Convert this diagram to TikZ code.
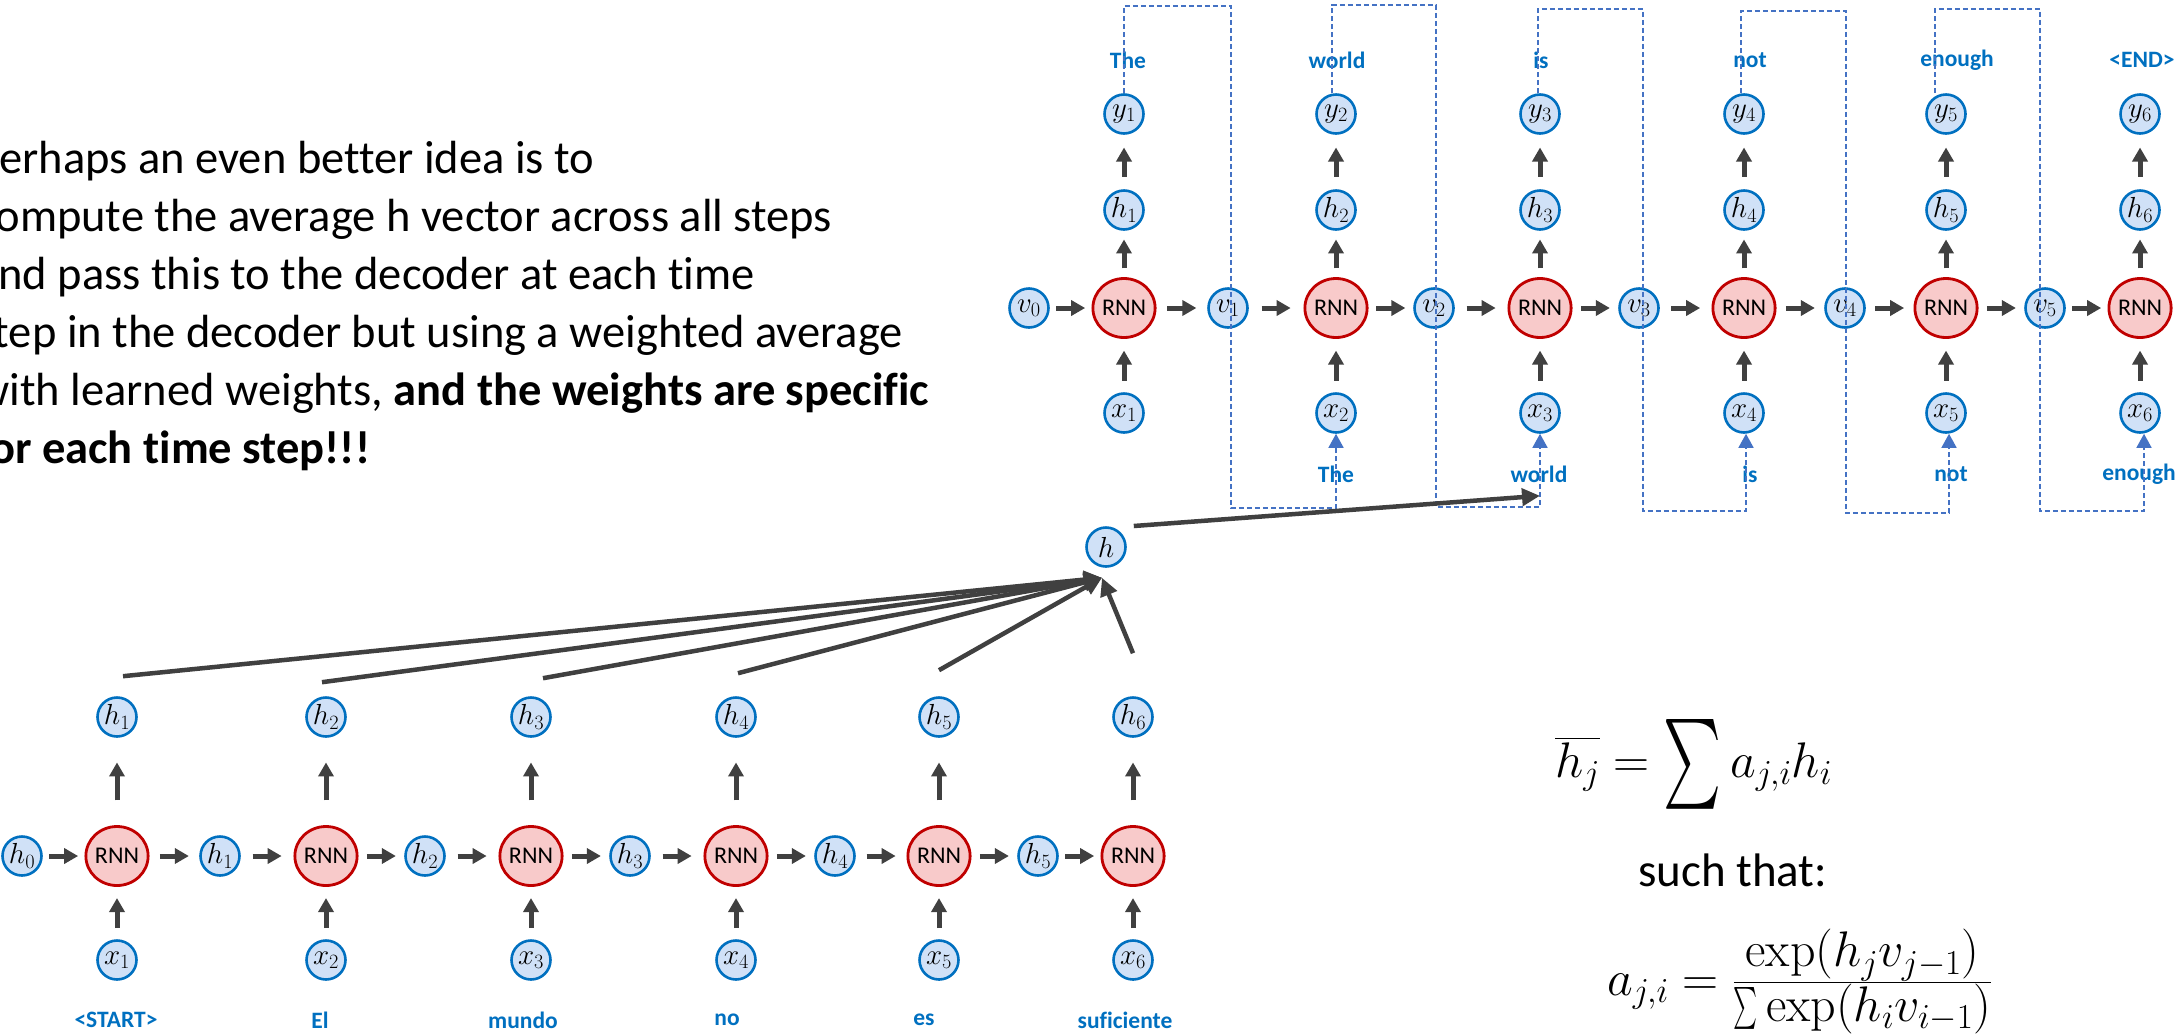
\RequirePackage{fix-cm}
\documentclass[tikz,border=0pt]{standalone}
\usepackage{amsmath}
\usepackage{graphicx}
\usepackage{fontspec}
\usetikzlibrary{arrows.meta,shapes.geometric,calc}
\newfontfamily\calib[Ligatures=NoCommon]{Carlito}
\definecolor{nodefill}{HTML}{D0E1F7}
\definecolor{nodedraw}{HTML}{0070C0}
\definecolor{rnnfill}{HTML}{F8CACA}
\definecolor{rnndraw}{HTML}{C00000}
\definecolor{arrgray}{HTML}{404040}
\definecolor{lblblue}{HTML}{0070C0}
\definecolor{dashblue}{HTML}{4472C4}
\tikzset{
  bn/.style={circle, draw=nodedraw, fill=nodefill, line width=2.6pt, minimum size=39pt, inner sep=0pt, font=\fontsize{29}{29}\selectfont},
  rnn/.style={ellipse, draw=rnndraw, fill=rnnfill, line width=2.8pt, minimum width=55pt, minimum height=59pt, inner sep=0pt, font=\calib\fontsize{24}{24}\selectfont},
  lbl/.style={font=\calib\bfseries\fontsize{23.5}{23.5}\selectfont, text=lblblue, inner sep=0pt},
  arr/.style={draw=arrgray, line width=5pt, -{Triangle[length=14pt,width=15pt]}},
  bigarr/.style={draw=arrgray, line width=4.5pt, -{Triangle[length=18pt,width=17pt]}},
  dbox/.style={draw=dashblue, line width=1.6pt, dash pattern=on 5pt off 3pt, -{Triangle[length=14pt,width=15pt]}},
  para/.style={font=\calib\fontsize{46.5}{58}\selectfont, anchor=base west, inner sep=0pt},
}
\newcommand\harr[2]{\draw[arr] ($(#1.east)!0.5!(#2.west)+(-14.5,0)$) -- ++(29,0);}
\newcommand\varr[3]{\draw[arr] ($(#1.north)!0.5!(#2.south)+(0,#3/2)$) -- ++(0,-#3);}
\newcommand\bigsig[2]{\mathop{\vcenter{\hbox{\resizebox*{#1}{#2}{$\sum$}}}}}
\begin{document}
\begin{tikzpicture}[x=1pt,y=-1pt]
\useasboundingbox (0,0) rectangle (2183,1034);
\clip (0,0) rectangle (2183,1034);
\fill[white] (0,0) rectangle (2183,1034);

% paragraph
\node[para] (p1) at (-24,173) {Perhaps an even better idea is to};
\node[para] (p2) at (-24,231) {compute the average h vector across all steps};
\node[para] (p3) at (-24,289) {and pass this to the decoder at each time};
\node[para] (p4) at (-24,347) {step in the decoder but using a weighted average};
\node[para] (p5) at (-24,405) {with learned weights, \textbf{and the weights are specific}};
\node[para] (p6) at (-24,463) {\textbf{for each time step!!!}};

% decoder
\foreach \i/\x in {1/1124,2/1336,3/1540,4/1744,5/1946,6/2140}{
  \node[rnn] (dr\i) at (\x,308) {RNN};
  \node[bn] (dh\i) at (\x,210) {$h_{\i}$};
  \node[bn] (dy\i) at (\x,114) {$y_{\i}$};
  \node[bn] (dx\i) at (\x,413) {$x_{\i}$};
}
\foreach \i/\x in {0/1029,1/1228,2/1434,3/1639,4/1845,5/2045}
  \node[bn] (dv\i) at (\x,308) {$v_{\i}$};
\foreach \i in {1,...,6}{
  \varr{dx\i}{dr\i}{30}
  \varr{dr\i}{dh\i}{29}
  \varr{dh\i}{dy\i}{29}
  \pgfmathtruncatemacro\j{\i-1}
  \harr{dv\j}{dr\i}
}
\foreach \i in {1,...,5}{ \harr{dr\i}{dv\i} }

% decoder labels
\node[lbl] (dt1) at (1128,60) {The};
\node[lbl] (dt2) at (1337,60) {world};
\node[lbl] (dt3) at (1541,60) {is};
\node[lbl] (dt4) at (1750,60) {not};
\node[lbl] (dt5) at (1957,60) {enough};
\node[lbl] (dt6) at (2142,60) {<END>};
\node[lbl] (db2) at (1336,474) {The};
\node[lbl] (db3) at (1539,474) {world};
\node[lbl] (db4) at (1750,474) {is};
\node[lbl] (db5) at (1951,474) {not};
\node[lbl] (db6) at (2139,474) {enough};

% dashed feedback paths
\draw[dbox] (dy1.north) -- (1124,6) -- (1231,6) -- (1231,508) -- (1336,508) -- (dx2.south);
\draw[dbox] ([xshift=-4pt]dy2.north) -- (1332,5) -- (1436,5) -- (1436,507) -- (1540,507) -- (dx3.south);
\draw[dbox] ([xshift=-2pt]dy3.north) -- (1538,9) -- (1643,9) -- (1643,511) -- (1746,511) -- ([xshift=2pt]dx4.south);
\draw[dbox] ([xshift=-3pt]dy4.north) -- (1741,11) -- (1846,11) -- (1846,513) -- (1949,513) -- ([xshift=3pt]dx5.south);
\draw[dbox] ([xshift=-11pt]dy5.north) -- (1935,9) -- (2040,9) -- (2040,511) -- (2144,511) -- ([xshift=4pt]dx6.south);

% encoder
\foreach \i/\x in {1/117,2/326,3/531,4/736,5/939,6/1133}{
  \node[rnn] (er\i) at (\x,856) {RNN};
  \node[bn] (et\i) at (\x,717) {$h_{\i}$};
  \node[bn] (ex\i) at (\x,960) {$x_{\i}$};
}
\foreach \i/\x in {0/22,1/220,2/425,3/630,4/835,5/1038}
  \node[bn] (em\i) at (\x,856) {$h_{\i}$};
\foreach \i in {1,...,6}{
  \varr{ex\i}{er\i}{30}
  \varr{er\i}{et\i}{38}
  \pgfmathtruncatemacro\j{\i-1}
  \harr{em\j}{er\i}
}
\foreach \i in {1,...,5}{ \harr{er\i}{em\i} }

\node[lbl] (el1) at (116,1020) {<START>};
\node[lbl] (el2) at (320,1020) {El};
\node[lbl] (el3) at (523,1020) {mundo};
\node[lbl] (el4) at (727,1020) {no};
\node[lbl] (el5) at (924,1020) {es};
\node[lbl] (el6) at (1125,1020) {suficiente};

% context vector h
\node[bn] (hc) at (1106,547) {$h$};
\coordinate (hin) at ($(hc.south)+(-4,10)$);
\coordinate (s1) at ($(et1.north)+(6,-20)$);
\coordinate (s2) at ($(et2.north)+(-4,-14)$);
\coordinate (s3) at ($(et3.north)+(12,-18)$);
\coordinate (s4) at ($(et4.north)+(2,-23)$);
\coordinate (s5) at ($(et5.north)+(0,-26)$);
\coordinate (s6) at ($(et6.north)+(0,-43)$);
\foreach \k in {1,...,6}{ \draw[bigarr] (s\k) -- (hin); }
\coordinate (hs) at ($(hc.east)+(7,-21)$);
\coordinate (dT) at ($(dx3.south)+(0,62)$);
\draw[bigarr] (hs) -- (dT);

% formulas
\node[anchor=base west, inner sep=0pt, font=\fontsize{50}{50}\selectfont] (f1) at (1555,777)
  {$\overline{h_j} = \bigsig{58pt}{90pt} a_{j,i}h_i$};
\node[anchor=base west, inner sep=0pt, font=\calib\fontsize{47}{47}\selectfont] (f2) at (1638,886) {such that:};
\node[anchor=base west, inner sep=0pt, font=\fontsize{50}{50}\selectfont] (f3) at (1607,995)
  {$a_{j,i} = \tfrac{\displaystyle\exp(h_j v_{j-1})}{\displaystyle\bigsig{24pt}{42pt}\exp(h_i v_{i-1})}$};
\end{tikzpicture}
\end{document}
